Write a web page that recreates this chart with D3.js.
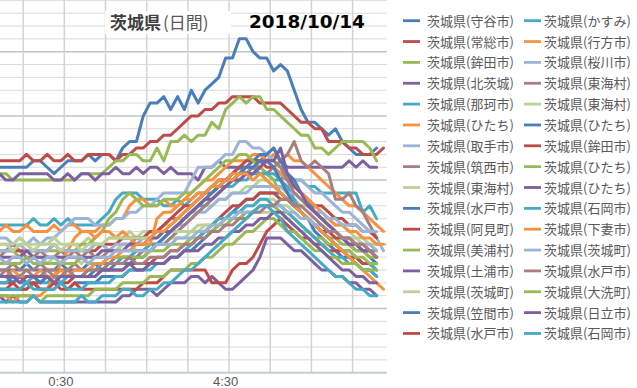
<!DOCTYPE html>
<html>
<head>
<meta charset="utf-8">
<script src="https://cdnjs.cloudflare.com/ajax/libs/d3/7.8.5/d3.min.js"></script>
<style>
  html, body { margin: 0; padding: 0; background: #fff; }
  svg { display: block; }
</style>
</head>
<body>
<svg id="chart"></svg>
<script>
const width = 637;
const height = 388;

// 10 minute categories, 23:00 .. 8:20 (the chart is cropped on the left)
const times = d3.range(-9, 48).map(k => {
  const m = (30 + k * 10 + 1440) % 1440;
  return `${Math.floor(m / 60)}:${String(m % 60).padStart(2, '0')}`;
});
const tickLabels = ['0:30', '4:30'];

const names = [
  '茨城県(守谷市)', '茨城県(常総市)', '茨城県(鉾田市)', '茨城県(北茨城)',
  '茨城県(那珂市)', '茨城県(ひたち)', '茨城県(取手市)', '茨城県(筑西市)',
  '茨城県(東海村)', '茨城県(水戸市)', '茨城県(阿見町)', '茨城県(美浦村)',
  '茨城県(土浦市)', '茨城県(茨城町)', '茨城県(笠間市)', '茨城県(水戸市)',
  '茨城県(かすみ)', '茨城県(行方市)', '茨城県(桜川市)', '茨城県(東海村)',
  '茨城県(東海村)', '茨城県(ひたち)', '茨城県(鉾田市)', '茨城県(ひたち)',
  '茨城県(ひたち)', '茨城県(石岡市)', '茨城県(下妻市)', '茨城県(茨城町)',
  '茨城県(水戸市)', '茨城県(大洗町)', '茨城県(日立市)', '茨城県(石岡市)'
];

const blue = '#4A7EBB', red = '#BE4B48', green = '#98B954', purple = '#7D60A0',
  teal = '#46AAC5', orange = '#F69240', lightBlue = '#9BB4D8', mauve = '#A67F7E',
  lightGreen = '#BCD29A';

const colors = [
  blue, red, green, purple, teal, orange, lightBlue, mauve,
  lightGreen, blue, red, green, purple, lightGreen, blue, red,
  teal, orange, lightBlue, mauve, lightGreen, blue, red, green,
  purple, teal, orange, lightBlue, mauve, green, purple, teal
];

const s01 = [32,32,32,32,32,33,33,32,31,32, 33,33,33,34,33,34,34,33,35,36, 36,40,42,42,43,41,43,41,44,42, 44,45,46,49,49,52,52,50,49,49, 47,48,47,44,41,39,39,38,37,38, 36,35,34,34,34,35,null];
const s02 = [33,33,33,33,34,33,33,34,33,33, 34,33,33,34,34,34,34,33,34,34, 35,35,36,36,37,37,38,39,40,40, 41,41,42,42,43,43,43,43,42,42, 42,42,41,40,39,39,38,38,36,36, 36,35,35,34,34,34,35];
const s03 = [31,31,30,30,30,30,30,30,30,30, 30,30,31,31,31,31,32,33,33,34, 34,33,33,35,33,36,36,37,36,37, 37,39,38,41,42,43,42,43,43,41, 41,40,39,38,37,37,35,35,34,35, 36,36,36,36,35,33,null];
const s04 = [31,30,30,31,31,31,31,31,30,30, 31,30,31,31,30,31,31,32,31,31, 32,31,32,32,31,32,31,31,31,30, 32,32,33,32,32,32,32,33,33,34, 35,33,32,32,32,32,32,32,32,32, 32,33,32,33,32,32,null];
const s05 = [23,23,23,23,23,24,23,23,24,23, 24,23,23,23,23,24,25,27,28,28, 28,27,27,27,26,26,27,26,27,28, 28,29,30,30,31,32,31,32,31,31, 30,30,31,30,30,29,29,28,28,28, 28,28,28,25,26,24,null];
const s06 = [22,23,22,22,23,22,22,22,23,22, 23,23,22,22,22,23,23,24,24,26, 27,27,26,26,27,26,26,27,28,29, 30,30,31,32,33,33,33,34,34,33, 34,33,34,33,33,32,31,30,29,28, 27,26,26,25,24,23,22];
const s07 = [21,21,20,21,20,21,20,21,21,22, 23,24,24,24,23,23,23,24,24,25, 25,26,26,27,28,28,28,28,30,32, 32,32,33,34,34,36,36,35,35,34, 33,32,31,30,30,29,28,28,27,26, 25,25,24,23,22,21,19];
const s08 = [18,19,20,19,18,18,19,18,18,19, 18,19,18,19,18,18,19,19,20,20, 21,21,22,22,23,24,24,25,26,27, 28,28,29,29,30,31,31,31,32,31, 32,33,34,36,33,32,33,32,31,27, 27,28,26,25,23,21,null];
const s09 = [20,20,20,21,20,20,20,20,21,20, 20,20,20,21,20,20,21,21,21,22, 21,22,22,22,23,23,24,24,25,25, 26,26,27,27,28,28,29,29,30,30, 29,29,28,27,26,26,25,24,24,23, 23,22,21,21,20,19,null];
const s10 = [16,16,16,16,17,16,16,16,16,17, 16,16,16,17,17,16,17,17,18,18, 19,19,20,20,21,22,23,24,25,26, 27,28,29,30,31,32,32,33,34,34, 35,33,31,30,28,27,25,24,23,22, 21,20,19,19,18,17,null];
const s11 = [19,19,19,19,19,19,19,19,20,19, 19,19,19,19,19,20,20,20,21,21, 21,21,22,22,23,24,25,26,26,27, 28,29,30,30,31,32,33,33,33,32, 32,31,30,29,28,27,26,26,25,24, 24,23,23,22,22,21,null];
const s12 = [19,19,19,18,19,19,19,19,19,19, 19,19,20,20,21,22,24,25,27,28, 27,26,26,26,27,27,27,28,28,29, 30,31,32,33,33,34,34,33,32,31, 30,28,27,26,25,24,23,22,21,21, 20,20,19,19,18,18,null];
const s13 = [12,11,12,11,11,12,11,11,11,11, 11,11,11,11,11,11,11,11,12,12, 13,13,13,12,13,14,14,14,15,15, 14,15,14,13,13,14,15,16,18,21, 21,21,20,19,19,18,17,16,16,15, 15,14,14,13,13,12,null];
const s14 = [18,17,18,18,17,18,18,17,18,18, 18,18,17,18,18,19,19,19,20,20, 19,19,20,20,20,21,21,21,22,22, 23,23,24,24,25,25,26,26,27,27, 27,26,26,25,24,24,23,23,22,22, 21,21,21,20,20,20,null];
const s15 = [13,13,13,13,13,14,13,13,13,14, 13,14,14,14,14,15,15,15,15,16, 16,16,17,17,17,18,18,19,19,20, 21,22,23,24,25,26,27,27,28,28, 28,28,27,26,25,24,23,22,21,20, 19,18,18,17,17,16,null];
const s16 = [14,14,14,15,14,14,14,15,14,14, 14,15,15,15,15,16,16,16,16,17, 17,17,17,18,18,19,19,20,20,21, 22,23,24,25,26,26,27,27,28,28, 28,27,27,26,25,24,23,22,22,21, 21,20,20,19,19,18,null];
const s17 = [14,14,15,14,14,15,14,14,15,14, 15,15,15,16,16,17,17,17,18,18, 19,19,20,20,21,22,23,24,25,26, 26,27,28,29,29,30,30,31,31,31, 31,30,29,27,25,24,23,22,21,20, 19,19,18,17,17,16,null];
const s18 = [12,12,11,12,12,12,12,13,15,17, 19,21,22,22,21,22,22,21,22,21, 20,20,20,24,25,25,26,27,27,28, 28,29,30,30,31,31,32,32,33,33, 32,31,30,29,28,27,26,25,24,23, 23,22,22,21,21,20,20];
const s19 = [19,19,19,20,19,19,19,19,20,19, 19,19,19,19,20,20,19,20,20,20, 20,21,21,22,22,22,23,23,24,25, 25,26,27,27,28,28,28,29,29,29, 29,29,28,28,27,26,25,25,24,24, 23,23,23,22,22,22,null];
const s20 = [16,16,17,16,16,16,17,16,16,16, 16,17,16,16,17,17,17,18,18,18, 18,19,19,20,20,21,22,23,24,25, 26,27,28,29,30,30,31,32,32,33, 33,32,30,28,27,26,25,24,23,22, 21,21,20,20,19,19,null];
const s21 = [20,20,19,20,20,19,20,20,20,19, 20,20,19,20,20,20,21,21,21,21, 21,21,21,21,22,22,22,22,22,23, 23,23,23,24,24,24,25,25,25,25, 25,24,24,23,22,22,21,20,20,19, 19,18,18,17,17,17,null];
const s22 = [15,15,14,15,15,15,14,15,15,15, 15,15,15,15,16,16,16,17,17,17, 18,18,19,20,21,22,23,24,25,26, 27,28,29,30,30,31,32,32,33,33, 32,30,28,26,25,24,22,21,20,19, 18,18,17,16,16,15,null];
const s23 = [13,13,14,13,13,14,13,13,14,13, 13,14,13,13,13,13,13,13,13,13, 13,14,14,14,15,16,16,16,16,16, 16,14,14,14,16,17,17,18,20,22, 23,24,23,22,21,21,20,20,19,19, 19,18,18,17,17,17,null];
const s24 = [17,17,17,17,18,17,17,17,17,17, 17,17,18,17,17,17,18,18,18,18, 18,18,19,19,19,20,20,20,21,21, 22,22,23,23,24,24,25,25,26,26, 26,25,25,24,23,22,21,21,20,20, 19,19,18,18,17,17,null];
const s25 = [18,18,18,18,19,18,18,18,18,18, 18,18,18,18,18,19,19,19,19,20, 20,20,21,21,22,22,23,24,25,26, 27,27,28,29,30,30,31,31,32,33, 33,35,31,29,28,26,25,24,23,22, 21,20,20,19,19,18,null];
const s26 = [13,13,13,13,14,13,13,13,13,14, 13,13,13,14,14,14,14,15,15,16, 16,16,16,17,17,18,18,19,20,21, 22,23,24,24,25,25,26,26,27,27, 26,26,25,24,23,22,21,20,19,18, 18,17,17,16,16,15,null];
const s27 = [15,15,16,15,15,15,16,15,15,16, 15,16,16,16,17,17,18,18,19,19, 20,20,21,22,22,23,24,25,26,27, 28,29,29,30,30,31,31,30,31,30, 29,28,27,26,25,24,23,22,21,20, 19,18,17,16,15,14,13];
const s28 = [18,17,18,18,17,18,17,18,18,17, 18,18,18,17,18,18,18,19,19,19, 19,19,19,20,20,20,21,21,21,22, 22,23,23,24,24,25,25,25,26,26, 26,26,25,25,24,24,23,23,22,22, 21,21,20,20,20,19,null];
const s29 = [15,16,15,15,16,15,15,16,15,15, 16,15,15,16,16,16,17,17,17,18, 17,17,18,18,18,19,19,20,20,21, 21,22,22,23,23,24,24,25,25,26, 26,27,27,26,26,25,24,23,22,22, 21,21,20,20,19,18,null];
const s30 = [12,12,12,12,12,12,11,12,12,12, 12,12,12,12,13,13,13,13,14,14, 14,14,15,15,15,16,16,16,17,17, 18,18,19,20,20,21,22,22,23,24, 24,23,22,22,21,20,19,19,18,18, 17,17,17,16,16,16,null];
const s31 = [15,15,15,14,15,15,15,15,14,15, 15,15,15,15,15,16,16,16,16,17, 16,16,17,17,17,18,18,19,19,19, 20,20,21,21,22,22,23,23,24,24, 25,25,24,23,22,21,20,19,18,17, 16,16,15,15,14,14,null];
const s32 = [11,11,11,11,11,12,11,11,11,11, 11,11,12,11,11,12,12,12,13,13, 12,12,13,13,14,14,15,16,16,17, 18,19,20,21,22,23,24,25,26,26, 25,24,22,21,20,19,18,17,16,15, 15,14,13,13,12,12,null];

const seriesValues = [s01, s02, s03, s04, s05, s06, s07, s08, s09, s10, s11, s12, s13, s14, s15, s16,
  s17, s18, s19, s20, s21, s22, s23, s24, s25, s26, s27, s28, s29, s30, s31, s32];

const svg = d3.select('#chart')
  .attr('width', width)
  .attr('height', height)
  .style('background-color', '#fff');

// plot area, its left part is outside of the picture
const plot = { left: -4.3, right: 386.9, top: -12.5, bottom: 372.7 };

const x = d3.scaleBand()
  .domain(times)
  .range([plot.left, plot.right]);

const y = d3.scaleLinear()
  .domain([0, 60])
  .range([plot.bottom, plot.top]);

const cx = t => x(t) + x.bandwidth() / 2;

// horizontal gridlines, minor every 2, major every 10
const minorTicks = d3.range(2, 60, 2).filter(v => v % 10 !== 0);
const majorTicks = d3.range(10, 60, 10);

svg.append('g')
  .selectAll('line')
  .data(minorTicks)
  .enter()
  .append('line')
  .attr('x1', 0)
  .attr('x2', plot.right)
  .attr('y1', d => y(d))
  .attr('y2', d => y(d))
  .attr('stroke', '#DADADA')
  .attr('stroke-width', 1);

svg.append('g')
  .selectAll('line')
  .data(majorTicks)
  .enter()
  .append('line')
  .attr('x1', 0)
  .attr('x2', plot.right)
  .attr('y1', d => y(d))
  .attr('y2', d => y(d))
  .attr('stroke', '#C4C4C4')
  .attr('stroke-width', 1.5);

// vertical gridlines between categories, one per hour
const hourEdges = times.filter(t => t.endsWith(':30'));
svg.append('g')
  .selectAll('line')
  .data(hourEdges)
  .enter()
  .append('line')
  .attr('x1', d => x(d) + x.bandwidth())
  .attr('x2', d => x(d) + x.bandwidth())
  .attr('y1', 0)
  .attr('y2', plot.bottom)
  .attr('stroke', '#D3D3D3')
  .attr('stroke-width', 1.5);

// category axis
const xAxis = d3.axisBottom(x)
  .tickValues(tickLabels)
  .tickSize(0)
  .tickPadding(4);

const axisG = svg.append('g')
  .attr('transform', `translate(0,${plot.bottom})`)
  .call(xAxis);
axisG.select('.domain')
  .attr('d', `M0,0H${plot.right}`)
  .attr('stroke', '#C3CDD8')
  .attr('stroke-width', 2);
axisG.selectAll('text')
  .attr('fill', '#595959')
  .style('font-family', '"Liberation Sans", Arial, sans-serif')
  .style('font-size', '13px');

// series lines
const line = d3.line()
  .defined(d => d != null)
  .x((d, i) => cx(times[i]))
  .y(d => y(d));

svg.append('g')
  .selectAll('path')
  .data(seriesValues)
  .enter()
  .append('path')
  .attr('d', d => line(d))
  .attr('fill', 'none')
  .attr('stroke', (d, i) => colors[i])
  .attr('stroke-width', 3)
  .attr('stroke-linejoin', 'round')
  .attr('stroke-linecap', 'round');

// title
svg.append('rect')
  .attr('x', 105)
  .attr('y', 11)
  .attr('width', 126)
  .attr('height', 23)
  .attr('fill', '#fff');

const title = svg.append('text')
  .attr('x', 110)
  .attr('y', 29)
  .style('font-family', '"Noto Sans CJK JP", sans-serif')
  .style('font-size', '17px');
title.append('tspan')
  .attr('fill', '#404040')
  .style('font-weight', 'bold')
  .text('茨城県');
title.append('tspan')
  .attr('dx', 2)
  .attr('fill', '#595959')
  .text('(日間)');

svg.append('text')
  .attr('x', 249)
  .attr('y', 27.5)
  .attr('fill', '#000')
  .style('font-family', '"DejaVu Sans", sans-serif')
  .style('font-weight', 'bold')
  .style('font-size', '18.4px')
  .text('2018/10/14');

// legend, two columns of 16
const legend = svg.append('g')
  .selectAll('g')
  .data(names)
  .enter()
  .append('g')
  .attr('transform', (d, i) => `translate(${i < 16 ? 403 : 524},${20.7 + (i % 16) * 20.85})`);

legend.append('line')
  .attr('x1', 0)
  .attr('x2', 17)
  .attr('stroke', (d, i) => colors[i])
  .attr('stroke-width', 2.8);

legend.append('text')
  .attr('x', (d, i) => i < 16 ? 24 : 20)
  .attr('y', 5)
  .attr('fill', '#595959')
  .style('font-family', '"Noto Sans CJK JP", sans-serif')
  .style('font-size', '13px')
  .text(d => d);
</script>
</body>
</html>
